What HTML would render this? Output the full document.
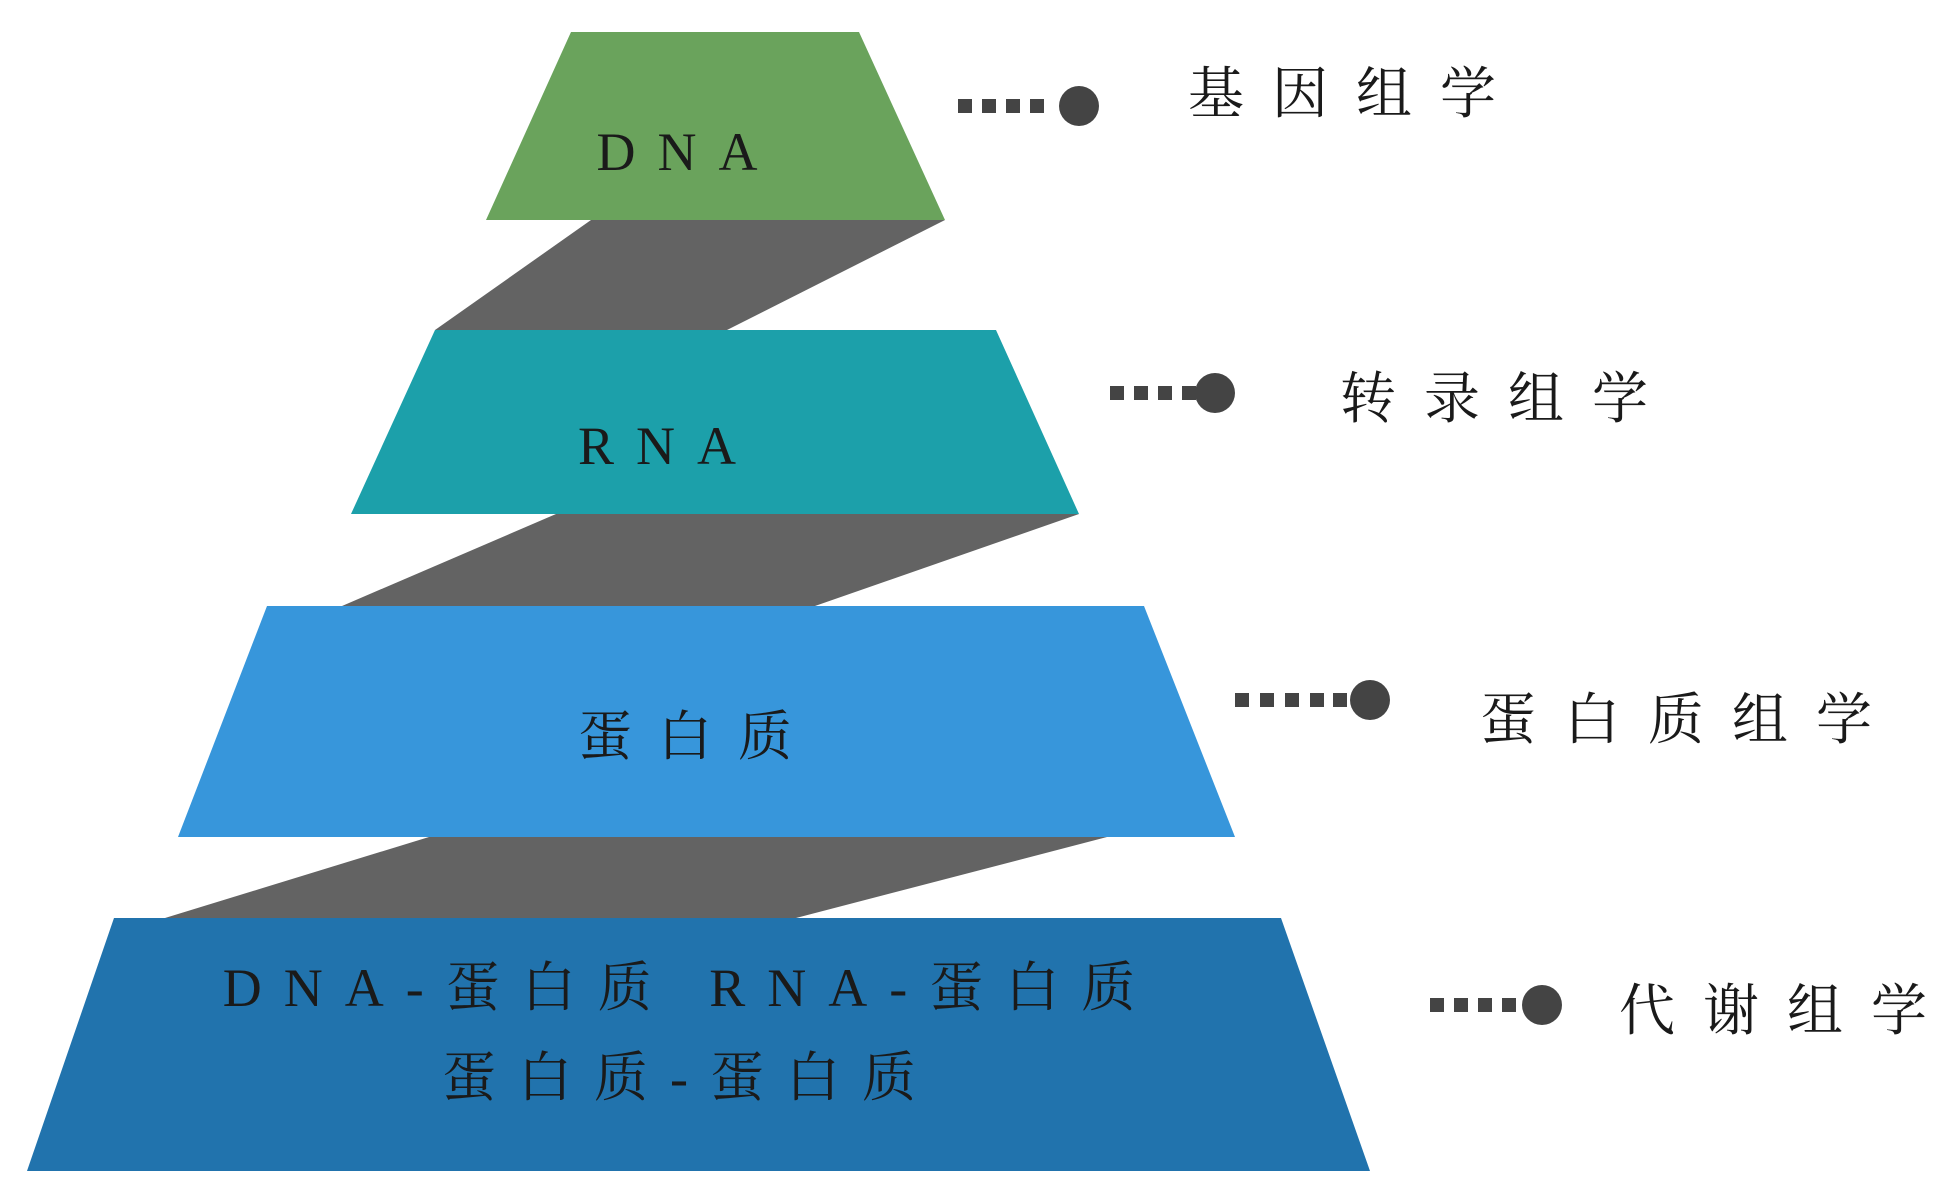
<!DOCTYPE html>
<html><head><meta charset="utf-8"><style>
html,body{margin:0;padding:0;background:#fff;}
svg{display:block}
.t{font-family:"Liberation Serif","Noto Serif CJK SC",serif;fill:#1a1a1a;}
.c{font-family:"Liberation Serif","Noto Serif CJK SC",serif;fill:#1a1a1a;font-size:56px;letter-spacing:28px;}
</style></head><body>
<svg width="1950" height="1203" viewBox="0 0 1950 1203" xmlns="http://www.w3.org/2000/svg">
<polygon points="591,220 945,220 727,330 435,330" fill="#636363"/>
<polygon points="556,514 1079,514 815,606 342,606" fill="#636363"/>
<polygon points="429,837 1107,837 796,918 165,918" fill="#636363"/>
<polygon points="571,32 859,32 945,220 486,220" fill="#6aa35c"/>
<polygon points="435,330 996,330 1079,514 351,514" fill="#1ca0aa"/>
<polygon points="267,606 1144,606 1235,837 178,837" fill="#3796db"/>
<polygon points="114,918 1281,918 1370,1171 27,1171" fill="#2173ad"/>
<text class="t" x="688" y="170" font-size="54" text-anchor="middle" letter-spacing="22">DNA</text>
<text class="t" x="668" y="464" font-size="54" text-anchor="middle" letter-spacing="22">RNA</text>
<text class="t" x="698" y="755" font-size="54" text-anchor="middle" letter-spacing="26">蛋白质</text>
<text class="t" x="690" y="1006" font-size="54" text-anchor="middle" letter-spacing="22">DNA-蛋白质  RNA-蛋白质</text>
<text class="t" x="690" y="1096" font-size="54" text-anchor="middle" letter-spacing="22">蛋白质-蛋白质</text>
<g fill="#444">
<rect x="958" y="99" width="14" height="14"/><rect x="982" y="99" width="14" height="14"/><rect x="1006" y="99" width="14" height="14"/><rect x="1030" y="99" width="14" height="14"/><circle cx="1079" cy="106" r="20"/>
<rect x="1110" y="386" width="14" height="14"/><rect x="1134" y="386" width="14" height="14"/><rect x="1158" y="386" width="14" height="14"/><rect x="1182" y="386" width="14" height="14"/><circle cx="1215" cy="393" r="20"/>
<rect x="1235" y="693" width="14" height="14"/><rect x="1260" y="693" width="14" height="14"/><rect x="1285" y="693" width="14" height="14"/><rect x="1310" y="693" width="14" height="14"/><rect x="1333" y="693" width="14" height="14"/><circle cx="1370" cy="700" r="20"/>
<rect x="1430" y="998" width="14" height="14"/><rect x="1454" y="998" width="14" height="14"/><rect x="1478" y="998" width="14" height="14"/><rect x="1502" y="998" width="14" height="14"/><circle cx="1542" cy="1005" r="20"/>
</g>
<text class="c" x="1188" y="113">基因组学</text>
<text class="c" x="1340" y="418">转录组学</text>
<text class="c" x="1480" y="739">蛋白质组学</text>
<text class="c" x="1619" y="1030">代谢组学</text>
</svg>
</body></html>
